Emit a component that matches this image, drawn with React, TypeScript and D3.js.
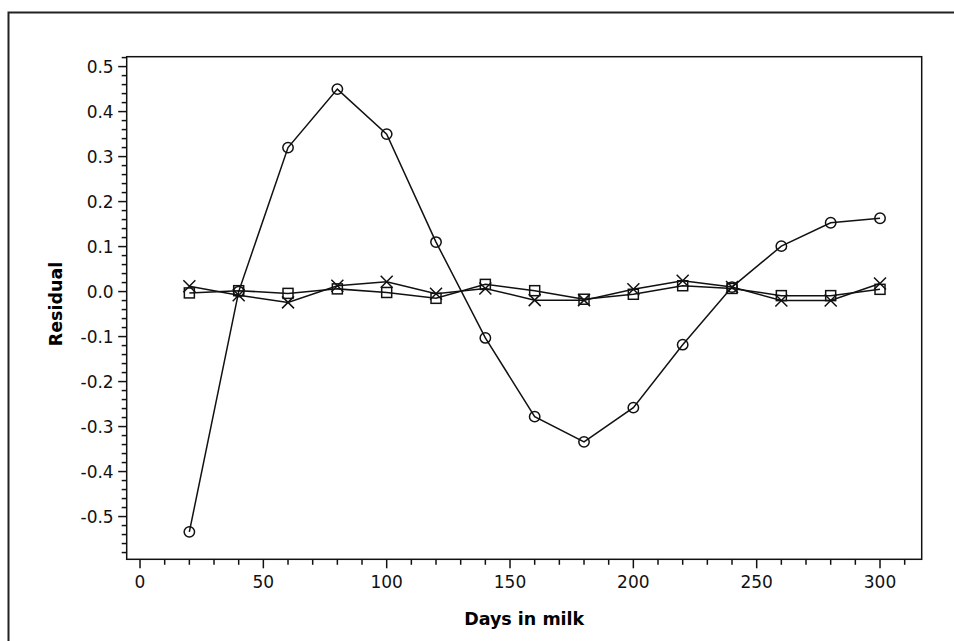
import React, { useEffect, useRef } from 'react';
import * as d3 from 'd3';

// days in milk
const days = [20, 40, 60, 80, 100, 120, 140, 160, 180, 200, 220, 240, 260, 280, 300];
// residuals for each model
const circleSeries = [-0.534, 0.0, 0.32, 0.45, 0.35, 0.11, -0.103, -0.278, -0.334, -0.258, -0.118, 0.01, 0.101, 0.153, 0.163];
const squareSeries = [-0.003, 0.002, -0.004, 0.006, -0.002, -0.015, 0.016, 0.002, -0.017, -0.006, 0.013, 0.007, -0.009, -0.009, 0.005];
const crossSeries = [0.012, -0.008, -0.024, 0.013, 0.022, -0.005, 0.007, -0.019, -0.019, 0.005, 0.024, 0.01, -0.02, -0.02, 0.018];

const xMajor = [0, 50, 100, 150, 200, 250, 300];
const yMajor = [-0.5, -0.4, -0.3, -0.2, -0.1, 0.0, 0.1, 0.2, 0.3, 0.4, 0.5];

const W = 954;
const H = 641;
const FONT = '"DejaVu Sans", Verdana, sans-serif';

function App() {
  const ref = useRef<SVGSVGElement>(null);

  useEffect(() => {
    const svg = d3.select(ref.current);
    svg.selectAll('*').remove();

    const left = 126.7;
    const right = 921.7;
    const top = 56.7;
    const bottom = 559.3;

    const x = d3.scaleLinear().domain([-5.4, 316.9]).range([left, right]);
    const y = d3.scaleLinear().domain([-0.595, 0.522]).range([bottom, top]);

    // outer border (open at the right and bottom)
    svg.append('path')
      .attr('d', `M8.5,${H + 5}V12.5H${W + 5}`)
      .attr('fill', 'none')
      .attr('stroke', '#222')
      .attr('stroke-width', 2);

    // plot frame
    svg.append('rect')
      .attr('x', left)
      .attr('y', top)
      .attr('width', right - left)
      .attr('height', bottom - top)
      .attr('fill', 'none')
      .attr('stroke', '#111')
      .attr('stroke-width', 1.5);

    // y axis
    const yMinor = d3.range(-0.58, 0.521, 0.02).filter(v => !yMajor.some(m => Math.abs(m - v) < 1e-6));
    const yAxis = svg.append('g').attr('stroke', '#111').attr('stroke-width', 1.5);
    yAxis.selectAll('line.minor').data(yMinor).enter()
      .append('line')
      .attr('x1', left - 5)
      .attr('x2', left)
      .attr('y1', d => y(d))
      .attr('y2', d => y(d));
    yAxis.selectAll('line.major').data(yMajor).enter()
      .append('line')
      .attr('x1', left - 8.5)
      .attr('x2', left)
      .attr('y1', d => y(d))
      .attr('y2', d => y(d));
    svg.append('g').selectAll('text').data(yMajor).enter()
      .append('text')
      .attr('x', left - 13)
      .attr('y', d => y(d))
      .attr('dy', '0.35em')
      .attr('text-anchor', 'end')
      .attr('font-family', FONT)
      .attr('font-size', 17)
      .attr('fill', '#111')
      .text(d => d3.format('.1f')(d).replace('−', '-'));

    // x axis
    const xMinor = d3.range(10, 311, 10).filter(v => v % 50 !== 0);
    const xAxis = svg.append('g').attr('stroke', '#111').attr('stroke-width', 1.5);
    xAxis.selectAll('line.minor').data(xMinor).enter()
      .append('line')
      .attr('x1', d => x(d))
      .attr('x2', d => x(d))
      .attr('y1', bottom)
      .attr('y2', bottom + 5.5);
    xAxis.selectAll('line.major').data(xMajor).enter()
      .append('line')
      .attr('x1', d => x(d))
      .attr('x2', d => x(d))
      .attr('y1', bottom)
      .attr('y2', bottom + 9);
    svg.append('g').selectAll('text').data(xMajor).enter()
      .append('text')
      .attr('x', d => x(d))
      .attr('y', bottom + 28.5)
      .attr('text-anchor', 'middle')
      .attr('font-family', FONT)
      .attr('font-size', 17)
      .attr('fill', '#111')
      .text(d => String(d));

    // axis labels
    svg.append('text')
      .attr('x', (left + right) / 2)
      .attr('y', 625)
      .attr('text-anchor', 'middle')
      .attr('font-family', FONT)
      .attr('font-weight', 'bold')
      .attr('font-size', 17.5)
      .attr('fill', '#000')
      .text('Days in milk');

    svg.append('text')
      .attr('transform', `translate(62,${(top + bottom) / 2 - 4}) rotate(-90)`)
      .attr('text-anchor', 'middle')
      .attr('font-family', FONT)
      .attr('font-weight', 'bold')
      .attr('font-size', 17.5)
      .attr('fill', '#000')
      .text('Residual');

    const line = d3.line<[number, number]>().x(d => x(d[0])).y(d => y(d[1]));
    const pairs = (vals: number[]) => days.map((d, i) => [d, vals[i]] as [number, number]);

    const lines = svg.append('g').attr('fill', 'none').attr('stroke', '#111').attr('stroke-width', 1.5);
    lines.append('path').attr('d', line(pairs(crossSeries)));
    lines.append('path').attr('d', line(pairs(squareSeries)));
    lines.append('path').attr('d', line(pairs(circleSeries)));

    const marks = svg.append('g').attr('fill', 'none').attr('stroke', '#111').attr('stroke-width', 1.5);
    // squares
    marks.selectAll('rect').data(pairs(squareSeries)).enter()
      .append('rect')
      .attr('x', d => x(d[0]) - 5)
      .attr('y', d => y(d[1]) - 5)
      .attr('width', 10)
      .attr('height', 10);
    // crosses
    marks.selectAll('path.cross').data(pairs(crossSeries)).enter()
      .append('path')
      .attr('d', (d) => {
        const cx = x(d[0]);
        const cy = y(d[1]);
        const s = 6;
        return `M${cx - s},${cy - s}L${cx + s},${cy + s}M${cx - s},${cy + s}L${cx + s},${cy - s}`;
      });
    // circles
    marks.selectAll('circle').data(pairs(circleSeries)).enter()
      .append('circle')
      .attr('cx', d => x(d[0]))
      .attr('cy', d => y(d[1]))
      .attr('r', 5.2);
  }, []);

  return (
    <div style={{ position: 'absolute', left: 0, top: 0, width: W, height: H, background: '#fff' }}>
      <svg ref={ref} width={W} height={H} style={{ display: 'block' }} />
    </div>
  );
}

export default App;
